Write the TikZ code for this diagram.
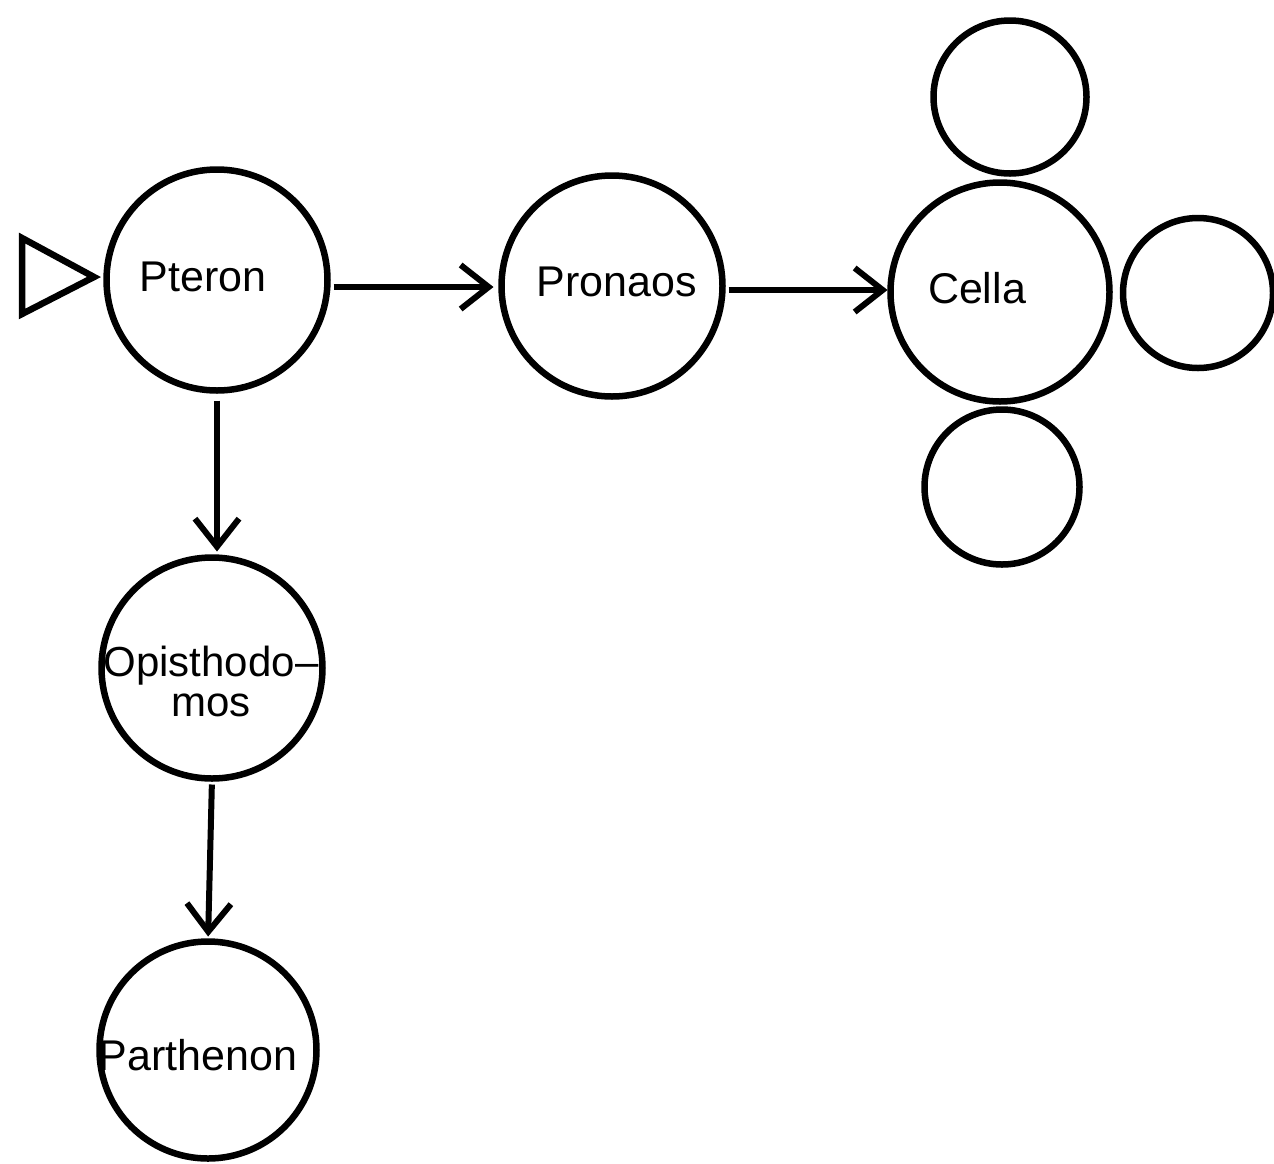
\documentclass[tikz,border=0pt]{standalone}
\usepackage{fontspec}
\setmainfont{Liberation Sans}
\usetikzlibrary{arrows.meta}
\begin{document}
\begin{tikzpicture}[x=1pt,y=-1pt,
  room/.style={circle,draw,line width=6.5pt,inner sep=0pt,outer sep=0pt},
  lbl/.style={font=\fontsize{43}{45}\selectfont,inner sep=0pt,align=center},
  arr/.style={line width=6pt,-{Straight Barb[length=28pt,width=44pt,line width=6pt]}}]
\useasboundingbox (0,0) rectangle (1274,1163);
% entrance marker
\coordinate (e1) at (22,238);
\coordinate (e2) at (94,277);
\coordinate (e3) at (22,314);
\draw[line width=6.5pt,line join=miter] (e1) -- (e2) -- (e3) -- cycle;
% rooms
\node[room,minimum size=221pt] (pteron) at (217,280) {};
\node[room,minimum size=221pt] (pronaos) at (612,286) {};
\node[room,minimum size=219pt] (cella) at (1000,292) {};
\node[room,minimum size=153pt] (top) at (1010,97) {};
\node[room,minimum size=150pt] (right) at (1198,293) {};
\node[room,minimum size=155pt] (bottom) at (1002,487) {};
\node[room,minimum size=221pt] (opis) at (212,668) {};
\node[room,minimum size=217pt] (parth) at (208,1050) {};
% labels
\node[lbl] (tpteron) at (203,277) {Pteron};
\node[lbl] (tpronaos) at (617,282) {Pronaos};
\node[lbl] (tcella) at (977,288) {Cella};
\node[lbl,font=\fontsize{42}{44}\selectfont] (topis) at (211,681) {Opisthodo–\\[-4pt]mos};
\node[lbl] (tparth) at (198,1055) {Parthenon};
% connectors
\draw[arr] (pteron.east |- 0,287) ++(6,0) -- ([xshift=-8pt]pronaos.west |- 0,287);
\draw[arr] (pronaos.east |- 0,290) ++(6,0) -- ([xshift=-3pt]cella.west |- 0,290);
\draw[arr] ([yshift=-10pt]pteron.south) -- ([yshift=6pt]pteron.south |- opis.north);
\draw[arr,shorten <=6pt,shorten >=5pt] (opis.south) -- (parth.north);
\end{tikzpicture}
\end{document}
